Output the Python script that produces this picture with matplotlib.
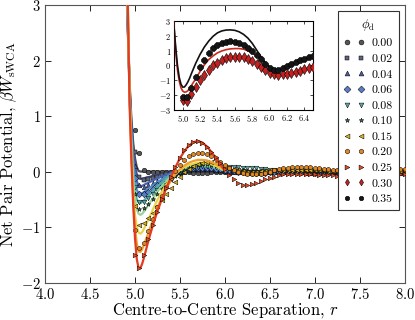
import numpy as np
import matplotlib
matplotlib.use('Agg')
import matplotlib.pyplot as plt
from matplotlib.lines import Line2D

plt.rcParams['font.family'] = 'serif'
plt.rcParams['font.serif'] = ['cmr10']
plt.rcParams['mathtext.fontset'] = 'cm'
plt.rcParams['axes.formatter.use_mathtext'] = True
plt.rcParams['axes.unicode_minus'] = False

# concentrations
phis = ['0.00', '0.02', '0.04', '0.06', '0.08', '0.10', '0.15', '0.20', '0.25', '0.30', '0.35']
markers = ['o', 's', '^', 'D', 'v', '*', '<', 'h', '>', 'd', '8']
face_colors = ['#555555', '#5c6478', '#4c5a9c', '#5a7ccc', '#5aa5a5', '#3f6b4a',
               '#d6b322', '#e5861e', '#e64a1e', '#c42020', '#151515']
line_colors = ['#4a4a5a', '#4b4f8f', '#4a62b0', '#4f8fcf', '#52b0a8', '#98d49a',
               '#e8d44a', '#f0a030', '#e23b22', '#c8281e', '#111111']

# simulation separations (5.00 .. 8.00)
r_sim = np.round(np.arange(5.0, 8.0001, 0.05), 2)

sim_000 = [0.75, 0.33, 0.03, 0.00, -0.01, -0.01, 0.00, 0.00, -0.01, 0.00,
           0.00, -0.01, -0.01, -0.02, -0.02, -0.02, -0.02, -0.01, -0.01, -0.01,
           -0.01, -0.01, 0.00, 0.00, 0.00, -0.01, -0.01, -0.01, -0.01, -0.01,
           -0.01, 0.00, 0.00, 0.00, 0.00, 0.00, -0.01, -0.01, -0.01, 0.00,
           0.00, 0.00, 0.00, 0.00, -0.01, -0.01, -0.01, 0.00, 0.00, 0.00,
           0.00, 0.00, 0.00, 0.00, -0.01, -0.01, 0.00, 0.00, 0.00, 0.00,
           0.00]
sim_002 = [0.35, -0.10, -0.15, -0.13, -0.11, -0.09, -0.07, -0.05, -0.03, -0.02,
           -0.01, 0.00, 0.01, 0.02, 0.02, 0.02, 0.02, 0.02, 0.01, 0.01,
           0.00, 0.00, 0.00, -0.01, -0.01, -0.01, -0.01, -0.01, 0.00, 0.00,
           0.00, 0.00, 0.00, -0.01, -0.01, -0.01, -0.01, 0.00, 0.00, 0.00,
           0.00, -0.01, -0.01, -0.02, -0.02, -0.01, -0.01, 0.00, 0.00, 0.00,
           -0.01, -0.01, -0.01, -0.01, 0.00, 0.00, 0.00, -0.01, -0.01, -0.01,
           -0.01]
sim_004 = [0.10, -0.24, -0.28, -0.25, -0.21, -0.17, -0.13, -0.09, -0.06, -0.03,
           -0.01, 0.01, 0.03, 0.04, 0.05, 0.05, 0.05, 0.04, 0.03, 0.02,
           0.01, 0.00, 0.00, -0.01, -0.01, -0.02, -0.02, -0.02, -0.02, -0.01,
           -0.01, -0.01, 0.00, 0.00, 0.00, -0.01, -0.01, -0.01, -0.02, -0.02,
           -0.02, -0.02, -0.01, -0.01, -0.01, -0.01, -0.02, -0.02, -0.02, -0.02,
           -0.02, -0.01, -0.01, -0.01, -0.01, -0.02, -0.02, -0.02, -0.02, -0.02,
           -0.02]
sim_006 = [-0.12, -0.40, -0.40, -0.36, -0.31, -0.25, -0.20, -0.15, -0.10, -0.05,
           -0.01, 0.02, 0.04, 0.06, 0.07, 0.07, 0.07, 0.06, 0.05, 0.04,
           0.03, 0.02, 0.01, 0.00, -0.01, -0.01, -0.02, -0.02, -0.02, -0.02,
           -0.01, -0.01, -0.01, 0.00, 0.00, 0.00, 0.00, -0.01, -0.01, -0.01,
           -0.02, -0.02, -0.02, -0.02, -0.01, -0.01, -0.01, -0.01, -0.01, -0.02,
           -0.02, -0.02, -0.02, -0.01, -0.01, -0.01, -0.01, -0.01, -0.01, -0.01,
           -0.01]
sim_008 = [-0.28, -0.55, -0.54, -0.48, -0.41, -0.34, -0.27, -0.20, -0.13, -0.07,
           -0.02, 0.02, 0.05, 0.08, 0.09, 0.10, 0.10, 0.10, 0.09, 0.09,
           0.08, 0.08, 0.08, 0.08, 0.07, 0.07, 0.06, 0.06, 0.05, 0.04,
           0.03, 0.02, 0.01, 0.00, 0.00, 0.00, 0.00, 0.01, 0.01, 0.01,
           0.01, 0.01, 0.00, 0.00, 0.00, 0.00, 0.00, 0.01, 0.01, 0.01,
           0.01, 0.01, 0.01, 0.00, 0.00, 0.00, 0.00, 0.00, 0.00, 0.00,
           0.00]
sim_010 = [-0.40, -0.68, -0.66, -0.58, -0.49, -0.40, -0.31, -0.23, -0.15, -0.08,
           -0.02, 0.03, 0.07, 0.10, 0.12, 0.13, 0.13, 0.12, 0.10, 0.08,
           0.06, 0.04, 0.03, 0.02, 0.02, 0.01, 0.01, 0.01, 0.01, 0.01,
           0.01, 0.01, 0.02, 0.02, 0.02, 0.02, 0.02, 0.02, 0.01, 0.01,
           0.01, 0.01, 0.01, 0.01, 0.00, 0.00, 0.00, 0.00, 0.00, 0.01,
           0.01, 0.01, 0.01, 0.01, 0.01, 0.01, 0.00, 0.00, 0.00, 0.00,
           0.00]
sim_015 = [-0.62, -0.96, -0.92, -0.84, -0.74, -0.62, -0.51, -0.40, -0.29, -0.18,
           -0.09, -0.01, 0.05, 0.10, 0.14, 0.16, 0.17, 0.17, 0.15, 0.12,
           0.09, 0.06, 0.04, 0.02, 0.01, 0.00, 0.00, 0.00, 0.01, 0.01,
           0.02, 0.02, 0.03, 0.03, 0.03, 0.03, 0.03, 0.03, 0.03, 0.02,
           0.02, 0.02, 0.02, 0.01, 0.01, 0.01, 0.01, 0.01, 0.01, 0.02,
           0.02, 0.02, 0.02, 0.02, 0.02, 0.02, 0.02, 0.01, 0.01, 0.01,
           0.01]
sim_020 = [-1.05, -1.38, -1.28, -1.08, -0.86, -0.64, -0.44, -0.27, -0.12, 0.01,
           0.12, 0.21, 0.28, 0.32, 0.34, 0.34, 0.32, 0.28, 0.23, 0.17,
           0.11, 0.06, 0.02, -0.01, -0.03, -0.04, -0.05, -0.05, -0.04, -0.02,
           0.00, 0.02, 0.04, 0.06, 0.07, 0.08, 0.08, 0.08, 0.08, 0.08,
           0.07, 0.06, 0.05, 0.04, 0.03, 0.03, 0.02, 0.02, 0.02, 0.03,
           0.03, 0.04, 0.04, 0.05, 0.05, 0.05, 0.05, 0.05, 0.05, 0.05,
           0.05]
sim_025 = [-1.50, -1.74, -1.50, -1.22, -0.96, -0.72, -0.50, -0.30, -0.10, 0.09,
           0.25, 0.38, 0.47, 0.53, 0.55, 0.52, 0.45, 0.36, 0.26, 0.15,
           0.04, -0.06, -0.14, -0.21, -0.25, -0.25, -0.23, -0.20, -0.17, -0.14,
           -0.11, -0.09, -0.07, -0.05, -0.04, -0.04, -0.04, -0.04, -0.05, -0.05,
           -0.05, -0.06, -0.06, -0.06, -0.07, -0.08, -0.09, -0.09, -0.08, -0.07,
           -0.07, -0.06, -0.06, -0.05, -0.05, -0.05, -0.05, -0.04, -0.04, -0.04,
           -0.04]
# inset only: 5.00 .. 6.50
sim_030 = [-2.35, -2.40, -1.90, -1.45, -1.00, -0.65, -0.28, 0.00, 0.20, 0.38,
           0.50, 0.57, 0.60, 0.60, 0.55, 0.45, 0.30, 0.12, -0.10, -0.30,
           -0.48, -0.60, -0.62, -0.60, -0.57, -0.52, -0.45, -0.35, -0.25, -0.17,
           -0.12]
sim_035 = [-2.15, -2.10, -1.50, -0.75, -0.10, 0.40, 0.85, 1.15, 1.38, 1.52,
           1.60, 1.62, 1.60, 1.52, 1.38, 1.20, 0.98, 0.72, 0.42, 0.10,
           -0.18, -0.32, -0.30, -0.18, -0.03, 0.12, 0.25, 0.37, 0.47, 0.55,
           0.62]

# theory separations
r_th = [4.88, 4.90, 4.92, 4.94, 4.96, 4.98, 5.00, 5.02, 5.04, 5.06, 5.08, 5.10,
        5.15, 5.20, 5.25, 5.30, 5.35, 5.40, 5.45, 5.50, 5.55, 5.60, 5.65, 5.70,
        5.75, 5.80, 5.85, 5.90, 5.95, 6.00]

th_000 = [5.2, 3.6, 2.55, 1.6, 0.95, 0.52, 0.24, 0.08, 0.01, 0.0,
          0.0, 0.0, 0.0, 0.0, 0.0, 0.0, 0.0, 0.0, 0.0, 0.0,
          0.0, 0.0, 0.0, 0.0, 0.0, 0.0, 0.0, 0.0, 0.0, 0.0]
th_002 = [5.4, 3.8, 2.6, 1.55, 0.85, 0.4, 0.1, -0.05, -0.11, -0.13,
          -0.13, -0.12, -0.10, -0.08, -0.06, -0.04, -0.03, -0.01, 0.0, 0.01,
          0.01, 0.01, 0.02, 0.02, 0.02, 0.02, 0.01, 0.01, 0.01, 0.0]
th_004 = [5.6, 4.0, 2.65, 1.5, 0.75, 0.28, -0.03, -0.18, -0.25, -0.26,
          -0.26, -0.24, -0.20, -0.16, -0.12, -0.09, -0.06, -0.03, -0.01, 0.01,
          0.02, 0.03, 0.04, 0.04, 0.04, 0.04, 0.03, 0.03, 0.02, 0.01]
th_006 = [5.8, 4.1, 2.7, 1.45, 0.65, 0.15, -0.17, -0.33, -0.39, -0.40,
          -0.39, -0.37, -0.31, -0.25, -0.19, -0.14, -0.09, -0.05, -0.01, 0.02,
          0.04, 0.05, 0.06, 0.07, 0.07, 0.06, 0.06, 0.04, 0.03, 0.01]
th_008 = [6.0, 4.2, 2.75, 1.4, 0.55, 0.0, -0.33, -0.5, -0.56, -0.57,
          -0.55, -0.52, -0.44, -0.35, -0.27, -0.19, -0.12, -0.07, -0.02, 0.02,
          0.05, 0.07, 0.08, 0.09, 0.09, 0.09, 0.08, 0.06, 0.04, 0.02]
th_010 = [6.2, 4.3, 2.8, 1.35, 0.45, -0.15, -0.5, -0.68, -0.76, -0.78,
          -0.76, -0.72, -0.60, -0.48, -0.36, -0.26, -0.17, -0.09, -0.03, 0.02,
          0.06, 0.09, 0.11, 0.12, 0.12, 0.11, 0.10, 0.08, 0.05, 0.02]
th_015 = [6.5, 4.4, 3.0, 1.35, 0.35, -0.35, -0.78, -1.0, -1.1, -1.12,
          -1.09, -1.03, -0.86, -0.68, -0.51, -0.36, -0.23, -0.12, -0.04, 0.03,
          0.08, 0.12, 0.14, 0.16, 0.16, 0.15, 0.13, 0.10, 0.06, 0.02]
th_020 = [6.8, 4.6, 3.1, 1.4, 0.3, -0.5, -1.0, -1.3, -1.44, -1.45,
          -1.40, -1.32, -1.10, -0.87, -0.65, -0.46, -0.30, -0.16, -0.05, 0.04,
          0.11, 0.16, 0.19, 0.21, 0.21, 0.20, 0.17, 0.13, 0.08, 0.03]
th_025 = [7.0, 4.5, 3.0, 1.2, 0.2, -0.6, -1.2, -1.58, -1.74, -1.74,
          -1.66, -1.55, -1.24, -0.96, -0.71, -0.49, -0.29, -0.10, 0.08, 0.24,
          0.37, 0.47, 0.53, 0.55, 0.52, 0.45, 0.35, 0.24, 0.12, 0.02]
th_030 = [4.6, 2.7, 0.9, -0.3, -1.05, -1.5, -1.72, -1.80, -1.78, -1.70,
          -1.55, -1.35, -0.90, -0.40, 0.05, 0.40, 0.65, 0.85, 0.98, 1.07,
          1.12, 1.14, 1.14, 1.10, 1.00, 0.85, 0.65, 0.42, 0.15, -0.10]
th_035 = [4.5, 2.6, 1.2, 0.0, -0.8, -1.25, -1.46, -1.45, -1.30, -1.10,
          -0.85, -0.55, 0.15, 0.75, 1.25, 1.65, 1.97, 2.20, 2.33, 2.39,
          2.40, 2.37, 2.27, 2.10, 1.85, 1.50, 1.05, 0.60, 0.20, -0.10]

sim_main = [sim_000, sim_002, sim_004, sim_006, sim_008, sim_010, sim_015, sim_020, sim_025]
th_main = [th_000, th_002, th_004, th_006, th_008, th_010, th_015, th_020, th_025]

fig = plt.figure(figsize=(4.15, 3.2), dpi=100)
ax = fig.add_axes([0.1084, 0.117, 0.8675, 0.8674])

for i in range(len(sim_main)):
    ax.plot(r_th, th_main[i], color=line_colors[i], lw=1.6, zorder=2 + i)
    ax.plot(r_sim, sim_main[i], ls='none', marker=markers[i], ms=3.3,
            mfc=face_colors[i], mec='black', mew=0.35, zorder=2 + i)

ax.set_xlim(4.0, 8.0)
ax.set_ylim(-2, 3)
ax.set_xticks(np.arange(4.0, 8.01, 0.5))
ax.set_yticks(range(-2, 4))
ax.xaxis.set_major_formatter(matplotlib.ticker.FormatStrFormatter('$%.1f$'))
ax.tick_params(direction='in', top=True, right=True, labelsize=10.5, length=4,
               width=0.6, pad=3)
for s in ax.spines.values():
    s.set_linewidth(0.8)
    s.set_color('#555555')
ax.set_xlabel(r'Centre-to-Centre Separation, $r$', fontsize=12, labelpad=-0.5)
ax.set_ylabel(r'Net Pair Potential, $\beta W_{\rm sWCA}$', fontsize=12, labelpad=1)

handles = []
for i in range(len(phis)):
    handles.append(Line2D([], [], ls='none', marker=markers[i], ms=3.5,
                          mfc=face_colors[i], mec='black', mew=0.35))
leg = ax.legend(handles, phis, loc='upper right', numpoints=2, fontsize=8.5,
                title=r'$\phi_{\rm d}$', title_fontsize=9, fancybox=False,
                edgecolor='#333333', framealpha=1, labelspacing=0.45,
                handlelength=1.8, handletextpad=0.6, borderpad=0.5)
leg.get_frame().set_linewidth(0.8)
leg.set_zorder(20)

# inset with the two densest systems
axi = fig.add_axes([0.4193, 0.6563, 0.3349, 0.2781])
axi.plot(r_th, th_030, color=line_colors[9], lw=1.2, zorder=3)
axi.plot(r_th, th_035, color=line_colors[10], lw=1.2, zorder=3)
axi.plot(r_sim[:31], sim_030, ls='none', marker=markers[9], ms=5.5,
         mfc=face_colors[9], mec='black', mew=0.4, zorder=4)
axi.plot(r_sim[:31], sim_035, ls='none', marker=markers[10], ms=5,
         mfc=face_colors[10], mec='black', mew=0.4, zorder=4)
axi.set_xlim(4.9, 6.5)
axi.set_ylim(-3, 3)
axi.set_xticks(np.arange(5.0, 6.41, 0.2))
axi.set_yticks(range(-3, 4))
axi.xaxis.set_major_formatter(matplotlib.ticker.FormatStrFormatter('$%.1f$'))
axi.tick_params(direction='in', top=True, right=True, labelsize=6, length=2.5,
                width=0.5, pad=2)
for s in axi.spines.values():
    s.set_linewidth(0.8)

fig.savefig('out.png', dpi=100)
